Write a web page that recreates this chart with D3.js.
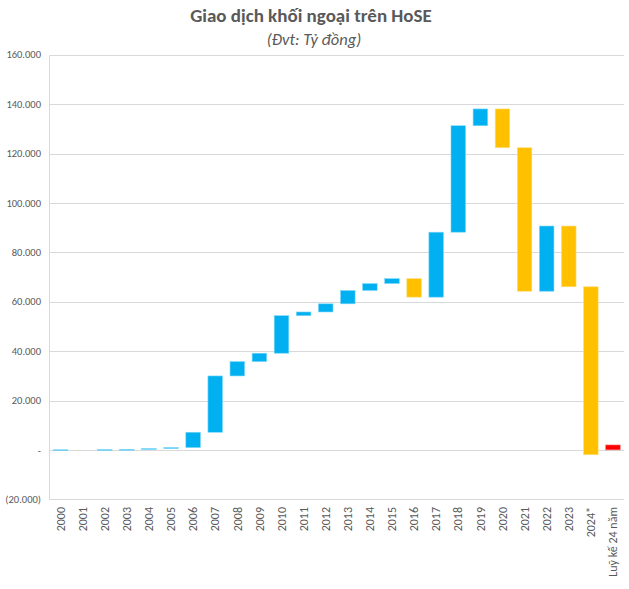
<!DOCTYPE html>
<html>
<head>
<meta charset="utf-8">
<script src="https://cdn.jsdelivr.net/npm/d3@7"></script>
<style>
  html, body { margin: 0; padding: 0; background: #fff; }
  svg { display: block; }
</style>
</head>
<body>
<div id="chart"></div>
<script>
// ---- Data (Tỷ đồng) ----
const categories = ["2000","2001","2002","2003","2004","2005","2006","2007","2008","2009",
  "2010","2011","2012","2013","2014","2015","2016","2017","2018","2019","2020","2021",
  "2022","2023","2024*","Luỹ kế 24 năm"];
// yearly net values (last entry is the cumulative total bar)
const netValues = [50, 0, 60, 80, 350, 400, 6200, 22800, 5800, 3400,
  15200, 1500, 3300, 5400, 2800, 2000, -7500, 26300, 43100, 6800, -15700, -58100,
  26400, -24600, -68000];
const totalValue = 2000;
const yTicks = [-20000, 0, 20000, 40000, 60000, 80000, 100000, 120000, 140000, 160000];
const titleText = "Giao dịch khối ngoại trên HoSE";
const subtitleText = "(Đvt: Tỷ đồng)";

const W = 629, H = 589;
const margin = { left: 49.5, right: 5, top: 54.7, bottom: 89.7 };
const font = "Carlito, Calibri, 'Liberation Sans Narrow', Lato, sans-serif";

const svg = d3.select("#chart").append("svg").attr("width", W).attr("height", H);

// build waterfall segments
let cum = 0;
const bars = netValues.map((v, i) => {
  const start = cum; cum += v;
  return { cat: categories[i], y0: start, y1: cum, type: v >= 0 ? "up" : "down" };
});
bars.push({ cat: categories[categories.length - 1], y0: 0, y1: totalValue, type: "total" });

const x = d3.scaleBand().domain(categories)
  .range([margin.left, W - margin.right]).paddingInner(0.34).paddingOuter(0.17);
const y = d3.scaleLinear().domain([-20000, 160000]).range([H - margin.bottom, margin.top]);

const fmt = v => {
  if (v === 0) return "-";
  const s = d3.format(",")(Math.abs(v)).replace(/,/g, ".");
  return v < 0 ? "(" + s + ")" : s;
};

// gridlines
svg.append("g").selectAll("line").data(yTicks).join("line")
  .attr("x1", margin.left).attr("x2", W - margin.right)
  .attr("y1", d => Math.round(y(d)) + 0.5).attr("y2", d => Math.round(y(d)) + 0.5)
  .attr("stroke", "#d9d9d9").attr("stroke-width", 1);
// left axis line
svg.append("line")
  .attr("x1", margin.left).attr("x2", margin.left)
  .attr("y1", Math.round(y(160000)) + 0.5).attr("y2", Math.round(y(-20000)) + 0.5)
  .attr("stroke", "#d9d9d9");

// y labels
svg.append("g").selectAll("text").data(yTicks).join("text")
  .attr("x", 41).attr("y", d => y(d)).attr("dy", "0.35em")
  .attr("text-anchor", "end").attr("font-family", font).attr("font-size", 10.5)
  .attr("fill", "#595959").text(fmt);

// bars
const fillC = { up: "#00B0F0", down: "#FFC000", total: "#FF0000" };
const strokeC = { up: "#7fd8f8", down: "#ffdf80", total: "#ff8080" };
svg.append("g").selectAll("rect").data(bars.filter(b => b.y0 !== b.y1)).join("rect")
  .attr("x", d => x(d.cat)).attr("width", x.bandwidth())
  .attr("y", d => y(Math.max(d.y0, d.y1)))
  .attr("height", d => Math.max(0.8, Math.abs(y(d.y0) - y(d.y1))))
  .attr("fill", d => fillC[d.type])
  .attr("stroke", d => strokeC[d.type]).attr("stroke-width", 0.6);

// x labels
svg.append("g").selectAll("text").data(categories).join("text")
  .attr("transform", d => `translate(${x(d) + x.bandwidth() / 2},507) rotate(-90)`)
  .attr("dy", "0.35em").attr("text-anchor", "end")
  .attr("font-family", font).attr("font-size", 12)
  .attr("fill", "#595959").text(d => d);

// titles
svg.append("text").attr("x", 311).attr("y", 22).attr("text-anchor", "middle")
  .attr("font-family", font).attr("font-size", 19).attr("font-weight", "bold")
  .attr("fill", "#595959").text(titleText);
svg.append("text").attr("x", 314).attr("y", 45).attr("text-anchor", "middle")
  .attr("font-family", font).attr("font-size", 16.5).attr("font-style", "italic")
  .attr("fill", "#595959").text(subtitleText);
</script>
</body>
</html>
